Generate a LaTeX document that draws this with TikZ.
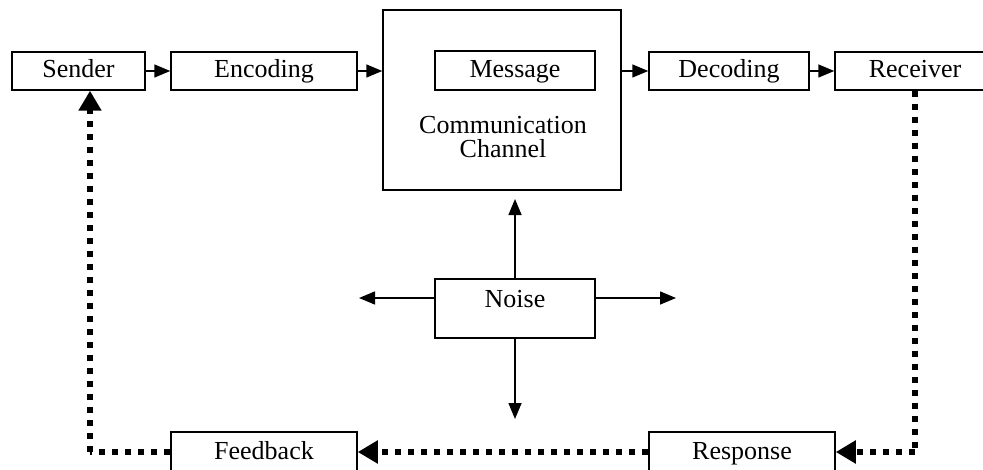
\documentclass[tikz,border=0pt]{standalone}
\usepackage{fontspec}
\setmainfont{Liberation Serif}
\usetikzlibrary{arrows.meta}
\begin{document}
\begin{tikzpicture}[x=0.5pt,y=-0.5pt,
  box/.style={draw=black,line width=0.75pt,inner sep=0pt,minimum height=19pt,text height=8.5pt,text depth=1.5pt,font=\fontsize{13}{15}\selectfont},
  conn/.style={line width=0.75pt,-{Triangle[length=8pt,width=6.5pt]}},
  fb/.style={line width=3.2pt,dash pattern=on 3pt off 3.5pt,-{Triangle[length=10pt,width=11pt]}},
  fbline/.style={line width=3.2pt,dash pattern=on 3pt off 3.5pt}]
\useasboundingbox (0,0) rectangle (983,470);
\clip (0,0) rectangle (983,470);
\fill[white] (0,0) rectangle (983,470);
\node[box,minimum width=66.5pt] (sender) at (78.5,71) {Sender};
\node[box,minimum width=93pt] (enc) at (264,71) {Encoding};
\node[box,minimum width=119pt,minimum height=90pt,text height=0pt,text depth=0pt] (chan) at (502,100) {};
\node[box,minimum width=80pt,minimum height=19.5pt] (msg) at (515,70.5) {Message};
\node[align=center,font=\fontsize{13}{12}\selectfont,inner sep=0pt] (chantext) at (503,137) {Communication\\Channel};
\node[box,minimum width=80pt] (dec) at (729,71) {Decoding};
\node[box,minimum width=80pt] (rec) at (915,71) {Receiver};
\node[box,minimum width=80pt,minimum height=29.5pt,text height=0pt,text depth=0pt] (noise) at (515,308.5) {};
\node[font=\fontsize{13}{15}\selectfont,inner sep=0pt,text height=8.5pt,text depth=1.5pt] (noisetext) at (515,300) {Noise};
\node[box,minimum width=93pt,minimum height=20pt] (feed) at (264,452) {Feedback};
\node[box,minimum width=93pt,minimum height=20pt] (resp) at (742,452) {Response};
% solid arrows
\draw[conn] (sender.east) -- (enc.west);
\draw[conn] (enc.east) -- (enc.east -| chan.west);
\draw[conn] (dec.west -| chan.east) -- (dec.west);
\draw[conn] (dec.east) -- (rec.west);
\coordinate (nup) at (515,199);
\coordinate (nleft) at (359,298);
\coordinate (nright) at (676,298);
\coordinate (ndown) at (515,419);
\draw[conn] (noise.north) -- (nup);
\draw[conn] (noise.west |- nleft) -- (nleft);
\draw[conn] (noise.east |- nright) -- (nright);
\draw[conn] (noise.south) -- (ndown);
% feedback loop
\coordinate (rc) at (915,452);
\coordinate (fc) at (90,452);
\draw[fbline] (rec.south) -- (rc);
\draw[fb] (rc) -- (resp.east);
\draw[fb] (resp.west) -- (feed.east);
\draw[fbline] (feed.west) -- (fc);
\draw[fb] (fc) -- (sender.south -| fc);
\end{tikzpicture}
\end{document}
